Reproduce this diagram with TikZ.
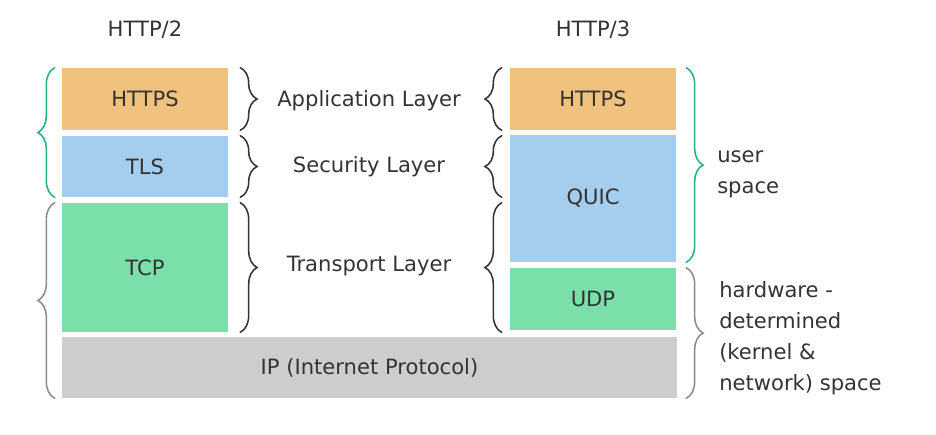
\documentclass[tikz,border=0pt]{standalone}
\usepackage{fontspec}
\setmainfont{DejaVu Sans}
\usetikzlibrary{fit,calc,decorations.pathreplacing}
\definecolor{httpsorange}{HTML}{F1C27D}
\definecolor{tlsblue}{HTML}{A5CDEE}
\definecolor{tcpgreen}{HTML}{7ADFA9}
\definecolor{ipgray}{HTML}{CDCDCD}
\definecolor{ink}{HTML}{333333}
\definecolor{spacegreen}{HTML}{22B283}
\definecolor{bracegray}{HTML}{8C8C8C}

\begin{document}
\begin{tikzpicture}[x=0.025cm,y=-0.025cm,
	txt/.style={text=ink, font=\fontsize{15}{18}\selectfont},
	layer/.style={inner sep=0pt, label={[txt]center:#1}},
	lbl/.style={text=ink, font=\fontsize{15}{22}\selectfont, align=left},
	brc/.style={decorate, decoration={brace, amplitude=0.42cm}, line width=1.1pt, draw=ink, line cap=round}]
	\useasboundingbox (0,0) rectangle (936,435);
	% HTTP/2 stack
	\node[layer=HTTPS, fill=httpsorange, fit={(62,68) (228,130)}]  (h2https) {};
	\node[layer=TLS,   fill=tlsblue,     fit={(62,136) (228,197)}] (h2tls)   {};
	\node[layer=TCP,   fill=tcpgreen,    fit={(62,203) (228,332)}] (h2tcp)   {};
	% HTTP/3 stack
	\node[layer=HTTPS, fill=httpsorange, fit={(510,68) (676,130)}]  (h3https) {};
	\node[layer=QUIC,  fill=tlsblue,     fit={(510,135) (676,262)}] (h3quic)  {};
	\node[layer=UDP,   fill=tcpgreen,    fit={(510,268) (676,330)}] (h3udp)   {};
	% shared IP
	\node[layer={IP (Internet Protocol)}, fill=ipgray, fit={(62,337) (677,398)}] (ip) {};
	\node[txt] (h2lbl) at ($(h2https.north)+(0,-38)$) {HTTP/2};
	\node[txt] (h3lbl) at ($(h3https.north)+(0,-38)$) {HTTP/3};
	% layer braces
	\foreach \n in {h2https,h2tls,h2tcp} {
		\draw[brc] ($(\n.north east)+(12,0)$) -- ($(\n.south east)+(12,0)$);
		\draw[brc] ($(h3https.west |- \n.south)+(-8,0)$) -- ($(h3https.west |- \n.north)+(-8,0)$);
	}
	\node[lbl] (applbl) at ($(h2https.east)!0.5!(h3https.west)+(0,2)$) {Application Layer};
	\node[lbl] (seclbl) at ($(h2tls.east)!0.5!(h3https.west |- h2tls.east)$) {Security Layer};
	\node[lbl] (trlbl)  at ($(h2tcp.east)!0.5!(h3https.west |- h2tcp.east)+(0,-2)$) {Transport Layer};
	% space braces
	\draw[brc, draw=spacegreen] ($(h2tls.south west)+(-7,0)$) -- ($(h2https.north west)+(-7,0)$);
	\draw[brc, draw=bracegray]  ($(ip.south west)+(-7,0)$) -- ($(h2tcp.north west)+(-7,0)$);
	\draw[brc, draw=spacegreen] ($(h3https.north east)+(10,0)$) -- ($(h3quic.south east)+(10,0)$);
	\draw[brc, draw=bracegray]  ($(h3udp.north east)+(10,0)$) -- ($(h3udp.east |- ip.south)+(10,0)$);
	\node[lbl, anchor=west] (userlbl) at ($(h3https.north east)!0.5!(h3quic.south east)+(36,9)$) {user\\space};
	\node[lbl, anchor=west] (hwlbl) at ($(h3udp.north east)!0.5!(h3udp.east |- ip.south)+(38,5)$) {hardware -\\determined\\(kernel \&\\network) space};
\end{tikzpicture}
\end{document}
